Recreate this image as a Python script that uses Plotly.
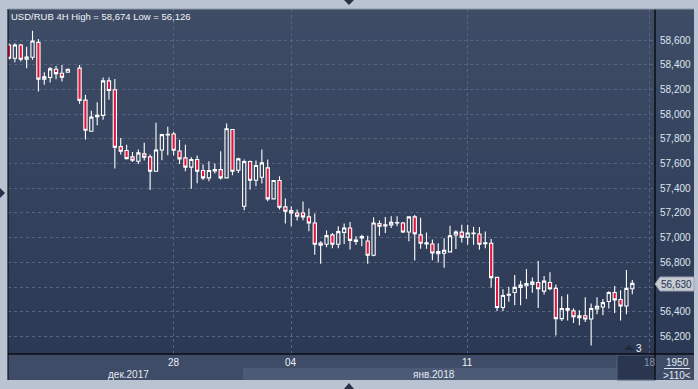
import plotly.graph_objects as go

# ---------------- data ----------------
bar_index = [0, 1, 2, 3, 4, 5, 6, 7, 8, 9, 10] + list(range(12, 107))
opens = [58.560, 58.452, 58.560, 58.444, 58.460, 58.581, 58.283, 58.296, 58.363, 58.331, 58.339,
         58.372, 58.113, 57.861, 57.979, 57.990, 58.269, 58.197, 57.737, 57.705, 57.654,
         57.619, 57.678, 57.654, 57.538, 57.710, 57.831, 57.839, 57.702, 57.646, 57.571,
         57.632, 57.544, 57.484, 57.540, 57.551, 57.484, 57.876, 57.546, 57.254, 57.616,
         57.465, 57.489, 57.565, 57.314, 57.462, 57.249, 57.219, 57.200, 57.200, 57.168,
         57.119, 56.957, 56.946, 57.022, 56.946, 57.043, 57.078, 56.970, 56.997, 56.973,
         56.857, 57.114, 57.095, 57.103, 57.119, 57.119, 57.046, 57.168, 57.022, 56.949,
         56.949, 56.869, 56.874, 56.885, 57.021, 57.045, 57.004, 57.032, 57.029, 56.950,
         56.955, 56.678, 56.434, 56.534, 56.556, 56.597, 56.610, 56.621, 56.637, 56.567,
         56.637, 56.589, 56.344, 56.426, 56.407, 56.368, 56.368, 56.341, 56.423, 56.439,
         56.483, 56.556, 56.499, 56.447, 56.586]
highs = [58.573, 58.573, 58.568, 58.546, 58.674, 58.608, 58.339, 58.382, 58.390, 58.398, 58.363,
         58.398, 58.156, 58.027, 58.097, 58.296, 58.296, 58.285, 57.807, 57.753, 57.694,
         57.713, 57.769, 57.673, 57.931, 57.834, 57.898, 57.855, 57.793, 57.753, 57.651,
         57.665, 57.592, 57.619, 57.600, 57.699, 57.924, 57.880, 57.646, 57.632, 57.624,
         57.624, 57.714, 57.632, 57.462, 57.497, 57.316, 57.254, 57.227, 57.292, 57.235,
         57.195, 56.970, 57.057, 57.038, 57.092, 57.114, 57.127, 57.011, 57.024, 57.016,
         57.165, 57.138, 57.168, 57.173, 57.173, 57.127, 57.168, 57.184, 57.162, 57.041,
         56.984, 56.955, 56.996, 57.097, 57.059, 57.105, 57.105, 57.089, 57.086, 57.050,
         56.988, 56.680, 56.583, 56.602, 56.697, 56.651, 56.746, 56.678, 56.811, 56.689,
         56.719, 56.621, 56.526, 56.542, 56.428, 56.412, 56.518, 56.466, 56.518, 56.504,
         56.567, 56.608, 56.575, 56.738, 56.657]
lows = [58.440, 58.420, 58.425, 58.372, 58.440, 58.183, 58.237, 58.256, 58.283, 58.264, 58.339,
        58.084, 57.794, 57.858, 57.909, 57.955, 58.116, 57.560, 57.673, 57.632, 57.613,
        57.597, 57.624, 57.385, 57.538, 57.627, 57.667, 57.665, 57.597, 57.538, 57.396,
        57.441, 57.466, 57.457, 57.519, 57.471, 57.484, 57.505, 57.524, 57.222, 57.389,
        57.416, 57.438, 57.295, 57.314, 57.227, 57.114, 57.092, 57.138, 57.141, 57.051,
        56.862, 56.789, 56.922, 56.914, 56.914, 56.949, 56.903, 56.943, 56.930, 56.789,
        56.849, 57.016, 57.038, 57.078, 57.092, 57.038, 56.970, 56.814, 56.911, 56.911,
        56.816, 56.798, 56.757, 56.879, 56.909, 56.961, 56.942, 56.942, 56.901, 56.915,
        56.594, 56.407, 56.407, 56.480, 56.453, 56.453, 56.504, 56.553, 56.431, 56.540,
        56.575, 56.208, 56.325, 56.330, 56.309, 56.290, 56.317, 56.126, 56.379, 56.371,
        56.426, 56.390, 56.330, 56.379, 56.542]
closes = [58.452, 58.560, 58.444, 58.463, 58.592, 58.283, 58.302, 58.366, 58.328, 58.299, 58.363,
          58.111, 57.869, 57.976, 57.990, 58.269, 58.191, 57.732, 57.699, 57.640, 57.627,
          57.686, 57.651, 57.538, 57.710, 57.834, 57.836, 57.708, 57.638, 57.571, 57.632,
          57.538, 57.484, 57.544, 57.551, 57.484, 57.881, 57.538, 57.638, 57.616, 57.465,
          57.584, 57.605, 57.314, 57.462, 57.246, 57.214, 57.200, 57.173, 57.168, 57.119,
          56.946, 56.938, 57.016, 56.946, 57.049, 57.078, 56.978, 56.981, 57.008, 56.857,
          57.119, 57.092, 57.103, 57.124, 57.122, 57.046, 57.168, 57.032, 56.954, 56.959,
          56.876, 56.888, 56.898, 57.015, 57.045, 57.004, 57.037, 57.037, 56.947, 56.958,
          56.676, 56.434, 56.532, 56.542, 56.597, 56.616, 56.629, 56.640, 56.586, 56.648,
          56.586, 56.344, 56.426, 56.412, 56.360, 56.352, 56.341, 56.426, 56.445, 56.474,
          56.556, 56.496, 56.447, 56.589, 56.630]

y_ticks = [56.2, 56.4, 56.6, 56.8, 57.0, 57.2, 57.4, 57.6, 57.8, 58.0, 58.2, 58.4, 58.6]
# 56,600 is hidden behind the last-price tag in the reference
y_tick_labels = ["56,200", "56,400", "", "56,800", "57,000", "57,200", "57,400",
                 "57,600", "57,800", "58,000", "58,200", "58,400", "58,600"]
x_ticks = [28, 48, 78, 109]
x_tick_labels = ["28", "04", "11", "18"]
month_labels = ["дек.2017", "янв.2018"]
month_pos = [20.3, 72.2]
title_text = "USD/RUB 4H High = 58,674 Low = 56,126"
last_price_label = "56,630"

# ---------------- layout helpers (pixel -> paper) ----------------
W, H = 698, 389
L, T, R, B = 8, 9, 655, 354
PW, PH = R - L, B - T
FONT = "Liberation Sans, Arial"


def px(x):
    return (x - L) / PW


def py(y):
    return (B - y) / PH


def hexmix(c1, c2, t):
    return "rgb(%d,%d,%d)" % tuple(round(a + (b - a) * t) for a, b in zip(c1, c2))


shapes = []
# gradient background over plot + right axis panel
top_c, bot_c = (62, 76, 102), (44, 57, 85)
n = 30
for i in range(n):
    y0 = T + PH * i / n
    y1 = T + PH * (i + 1) / n + 0.5
    shapes.append(dict(type="rect", xref="paper", yref="paper", layer="below",
                       x0=px(L), x1=px(694), y0=py(y1), y1=py(y0),
                       fillcolor=hexmix(top_c, bot_c, (i + 0.5) / n), line_width=0))
# bottom date panel
shapes.append(dict(type="rect", xref="paper", yref="paper", layer="below",
                   x0=px(L), x1=px(694), y0=py(380), y1=py(354),
                   fillcolor="#3e4c67", line_width=0))
shapes.append(dict(type="rect", xref="paper", yref="paper", layer="below",
                   x0=px(243), x1=px(617), y0=py(380), y1=py(368),
                   fillcolor="#4b5a75", line_width=0))
shapes.append(dict(type="rect", xref="paper", yref="paper", layer="below",
                   x0=px(617), x1=px(655), y0=py(380), y1=py(355),
                   fillcolor="#2a354f", line=dict(color="#55627a", width=1)))
# frame lines
shapes.append(dict(type="line", xref="paper", yref="paper", x0=px(L), x1=px(L),
                   y0=py(380), y1=py(T), line=dict(color="#10141c", width=1.2)))
shapes.append(dict(type="line", xref="paper", yref="paper", x0=px(L), x1=px(694),
                   y0=py(354), y1=py(354), line=dict(color="#0a0d14", width=1.5)))
shapes.append(dict(type="line", xref="paper", yref="paper", x0=px(655), x1=px(655),
                   y0=py(380), y1=py(T), line=dict(color="#0a0d14", width=1.5)))
shapes.append(dict(type="line", xref="paper", yref="paper", x0=px(L), x1=px(694),
                   y0=py(T), y1=py(T), line=dict(color="#8c98aa", width=1)))
# underline between 1950 and >110<
shapes.append(dict(type="line", xref="paper", yref="paper", x0=px(664), x1=px(690),
                   y0=py(368.5), y1=py(368.5), line=dict(color="#dfe5ee", width=1)))
# price tag
shapes.append(dict(type="path", xref="paper", yref="paper",
                   path="M %f %f L %f %f L %f %f L %f %f L %f %f Z" % (
                       px(655), py(284), px(660), py(277), px(694), py(277),
                       px(694), py(291), px(660), py(291)),
                   fillcolor="#c6cbd4", line=dict(color="#9aa3b2", width=1)))


def tri(pts, color):
    p = "M " + " L ".join("%f %f" % (px(a), py(b)) for a, b in pts) + " Z"
    return dict(type="path", xref="paper", yref="paper", path=p,
                fillcolor=color, line_width=0)


shapes.append(tri([(344, 0), (354, 0), (349, 5)], "#273248"))
shapes.append(tri([(344, 389), (354, 389), (349, 383)], "#273248"))
shapes.append(tri([(0, 188), (0, 198), (5, 193)], "#273248"))
shapes.append(tri([(624, 350), (634, 350), (629, 345)], "#1f293d"))

annotations = []
annotations.append(dict(text=title_text, xref="paper", yref="paper", x=px(9), y=py(16.5),
                        xanchor="left", yanchor="middle", showarrow=False,
                        font=dict(family=FONT, size=9.5, color="#f2f4f8")))
for v, t in zip(x_ticks, x_tick_labels):
    col = "#8796ad" if t == "18" else "#eef1f6"
    annotations.append(dict(text=t, xref="x", yref="paper", x=v, y=py(362),
                            xanchor="center", yanchor="middle", showarrow=False,
                            font=dict(family=FONT, size=10, color=col)))
for v, t in zip(month_pos, month_labels):
    annotations.append(dict(text=t, xref="x", yref="paper", x=v, y=py(374),
                            xanchor="center", yanchor="middle", showarrow=False,
                            font=dict(family=FONT, size=10, color="#e6eaf1")))
annotations.append(dict(text="1950", xref="paper", yref="paper", x=px(677), y=py(362),
                        xanchor="center", yanchor="middle", showarrow=False,
                        font=dict(family=FONT, size=10, color="#e6eaf1")))
annotations.append(dict(text="&gt;110&lt;", xref="paper", yref="paper", x=px(677), y=py(375),
                        xanchor="center", yanchor="middle", showarrow=False,
                        font=dict(family=FONT, size=10, color="#e6eaf1")))
annotations.append(dict(text=last_price_label, xref="paper", yref="paper", x=px(676), y=py(284),
                        xanchor="center", yanchor="middle", showarrow=False,
                        font=dict(family=FONT, size=10, color="#26324d")))
annotations.append(dict(text="3", xref="paper", yref="paper", x=px(639), y=py(348),
                        xanchor="center", yanchor="middle", showarrow=False,
                        font=dict(family=FONT, size=10, color="#eef1f6")))

fig = go.Figure(go.Candlestick(
    x=bar_index, open=opens, high=highs, low=lows, close=closes,
    increasing=dict(line=dict(color="#ffffff", width=1.1), fillcolor="rgba(0,0,0,0)"),
    decreasing=dict(line=dict(color="#ffffff", width=1.1), fillcolor="#e0153c"),
    whiskerwidth=0, hoverinfo="skip", showlegend=False,
))

GRID = "#56647f"
fig.update_layout(
    width=W, height=H,
    margin=dict(l=L, r=W - R, t=T, b=H - B, pad=0),
    paper_bgcolor="#b9c3d1",
    plot_bgcolor="rgba(0,0,0,0)",
    boxgap=0.22,
    shapes=shapes, annotations=annotations,
    showlegend=False,
    xaxis=dict(range=[-0.17, 109.86], rangeslider=dict(visible=False),
               tickvals=x_ticks, ticktext=x_tick_labels, showticklabels=False,
               showgrid=True, gridcolor=GRID, griddash="3px,3px", gridwidth=1,
               zeroline=False, showline=False, fixedrange=True),
    yaxis=dict(range=[56.058, 58.851], side="right",
               tickvals=y_ticks, ticktext=y_tick_labels,
               tickfont=dict(family=FONT, size=10, color="#dfe5ee"),
               ticks="outside", ticklen=2, tickcolor="rgba(0,0,0,0)",
               showgrid=True, gridcolor=GRID, griddash="3px,3px", gridwidth=1,
               zeroline=False, showline=False, fixedrange=True),
)

fig.write_html(
    "out.html",
    config={"displayModeBar": False},
    post_script="document.body.style.margin='0';document.body.style.overflow='hidden';",
)
